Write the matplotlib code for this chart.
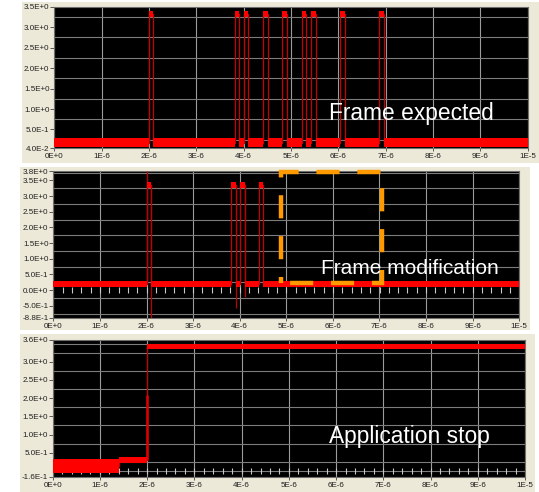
import matplotlib.pyplot as plt
from matplotlib.patches import Rectangle
import numpy as np

plt.rcParams['font.family'] = ['Liberation Sans', 'DejaVu Sans']

# time axis, in microseconds
x_ticks = [0, 1, 2, 3, 4, 5, 6, 7, 8, 9, 10]
x_labels = ["0E+0", "1E-6", "2E-6", "3E-6", "4E-6", "5E-6",
            "6E-6", "7E-6", "8E-6", "9E-6", "1E-5"]

# panel 1: frame expected
p1_starts = [2.00, 3.81, 4.00, 4.40, 4.82, 5.23, 5.42, 6.04, 6.86]
p1_ends = [2.09, 3.91, 4.10, 4.51, 4.92, 5.32, 5.53, 6.15, 6.96]
p1_low = (0.08, 0.28)
p1_high = (3.24, 3.40)
p1_yticks = [0.04, 0.5, 1.0, 1.5, 2.0, 2.5, 3.0, 3.5]
p1_ylabels = ["4.0E-2", "5.0E-1", "1.0E+0", "1.5E+0", "2.0E+0",
              "2.5E+0", "3.0E+0", "3.5E+0"]

# panel 2: frame modification
p2_starts = [2.00, 3.82, 4.00, 4.41]
p2_ends = [2.09, 3.91, 4.12, 4.51]
p2_low = (0.10, 0.30)
p2_high = (3.26, 3.44)
p2_spike_t = [2.00, 2.09, 3.91, 4.12]
p2_spike_lo = [0.20, -0.88, -0.57, -0.21]
p2_spike_hi = [3.80, 3.35, 3.35, 3.35]
p2_yticks = [-0.88, -0.5, 0.0, 0.5, 1.0, 1.5, 2.0, 2.5, 3.0, 3.5, 3.8]
p2_ylabels = ["-8.8E-1", "-5.0E-1", "0.0E+0", "5.0E-1", "1.0E+0", "1.5E+0",
              "2.0E+0", "2.5E+0", "3.0E+0", "3.5E+0", "3.8E+0"]

# panel 3: application stop
p3_edges = [0.0, 1.40, 2.00, 10.0]
p3_lo = [-0.06, 0.21, 3.35]
p3_hi = [0.32, 0.37, 3.49]
p3_yticks = [-0.16, 0.5, 1.0, 1.5, 2.0, 2.5, 3.0, 3.6]
p3_ylabels = ["-1.6E-1", "5.0E-1", "1.0E+0", "1.5E+0", "2.0E+0",
              "2.5E+0", "3.0E+0", "3.6E+0"]

W, H = 539, 492
BEIGE = '#ECE9D8'


def px_rect(x0, y0, x1, y1):
    return [x0 / W, 1 - y1 / H, (x1 - x0) / W, (y1 - y0) / H]


def pulse_train(starts, ends, low, high):
    t = [0.0]
    lo = [low[0]]
    hi = [low[1]]
    for s, e in zip(starts, ends):
        t += [s, e]
        lo += [high[0], low[0]]
        hi += [high[1], low[1]]
    t.append(10.0)
    lo.append(low[0])
    hi.append(low[1])
    return np.array(t), np.array(lo), np.array(hi)


def draw_trace(ax, t, lo, hi):
    ax.fill_between(t, lo, hi, step='post', color='#FF0000', lw=0, zorder=3)
    # edges only show where the band does not cover the line
    ax.step(t, (lo + hi) / 2, where='post', color='#C80000', lw=0.9, zorder=2.9)


def style(ax, yticks, ylabels, ylim, zero_ticks=False):
    ax.set_facecolor('black')
    ax.set_xlim(0, 10)
    ax.set_ylim(ylim)
    ax.set_xticks(x_ticks)
    ax.set_xticklabels(x_labels)
    ax.set_yticks(yticks)
    ax.set_yticklabels(ylabels)
    grid_y = np.arange(-1.0, 4.01, 0.25)
    grid_y = grid_y[(grid_y > ylim[0] + 0.01) & (grid_y < ylim[1] - 0.01)]
    ax.set_yticks(grid_y, minor=True)
    ax.tick_params(which='minor', length=0)
    ax.tick_params(axis='y', which='major', length=3, width=0.6, color='#404040',
                   labelsize=5.8, labelcolor='#202020', pad=0.5)
    ax.tick_params(axis='x', which='major', length=2.5, width=0.6, color='#404040',
                   labelsize=5.8, labelcolor='#202020', pad=1)
    ax.grid(True, axis='x', which='major', color='#9c9c9c', lw=0.8)
    ax.grid(True, axis='y', which='minor', color='#7c7c7c', lw=0.8)
    ax.set_axisbelow(True)
    for sp in ax.spines.values():
        sp.set_color('#707070')
        sp.set_linewidth(0.8)
    if zero_ticks:
        mx = np.arange(0.2, 10.0, 0.2)
        ax.plot(mx, np.zeros_like(mx), ls='none', marker='|', ms=4.5, mew=0.8,
                color='#c8c8c8', zorder=2)


fig = plt.figure(figsize=(5.39, 4.92), dpi=100)
for r in [(22, 2, 539, 163), (20, 167, 530, 330), (20, 334, 535, 492)]:
    fig.patches.append(Rectangle((r[0] / W, 1 - r[3] / H), (r[2] - r[0]) / W,
                                 (r[3] - r[1]) / H, transform=fig.transFigure,
                                 facecolor=BEIGE, edgecolor='none', zorder=-5))

ax1 = fig.add_axes(px_rect(54.3, 6.7, 527.5, 148.3))
ax2 = fig.add_axes(px_rect(53.3, 171, 519.3, 317.7))
ax3 = fig.add_axes(px_rect(52.7, 340, 525, 476.7))

# panel 1
style(ax1, p1_yticks, p1_ylabels, (0.04, 3.5))
t, lo, hi = pulse_train(p1_starts, p1_ends, p1_low, p1_high)
draw_trace(ax1, t, lo, hi)
ax1.text(0.58, 0.20, "Frame expected", transform=ax1.transAxes, color='white',
         fontsize=16.4, ha='left', va='baseline', zorder=6)

# panel 2
style(ax2, p2_yticks, p2_ylabels, (-0.88, 3.8), zero_ticks=True)
t, lo, hi = pulse_train(p2_starts, p2_ends, p2_low, p2_high)
draw_trace(ax2, t, lo, hi)
ax2.vlines(p2_spike_t, p2_spike_lo, p2_spike_hi, color='#C00000', lw=0.9, zorder=2.9)
box = Rectangle((4.894, 0.24), 7.05 - 4.894, 3.76 - 0.24, fill=False,
                edgecolor='#FF9900', lw=3.2, ls=(7.15, (5.2, 4.0)),
                clip_on=False, zorder=5)
ax2.add_patch(box)
ax2.text(0.574, 0.298, "Frame modification", transform=ax2.transAxes,
         color='white', fontsize=15, ha='left', va='baseline', zorder=6)

# panel 3
style(ax3, p3_yticks, p3_ylabels, (-0.16, 3.6), zero_ticks=True)
t = np.array(p3_edges)
lo = np.array(p3_lo + [p3_lo[-1]])
hi = np.array(p3_hi + [p3_hi[-1]])
draw_trace(ax3, t, lo, hi)
ax3.vlines([2.00], [0.30], [2.10], color='#E00000', lw=1.8, zorder=3)
ax3.text(0.585, 0.247, "Application stop", transform=ax3.transAxes,
         color='white', fontsize=16.4, ha='left', va='baseline', zorder=6)

fig.savefig("out.png", dpi=100, facecolor='white')
